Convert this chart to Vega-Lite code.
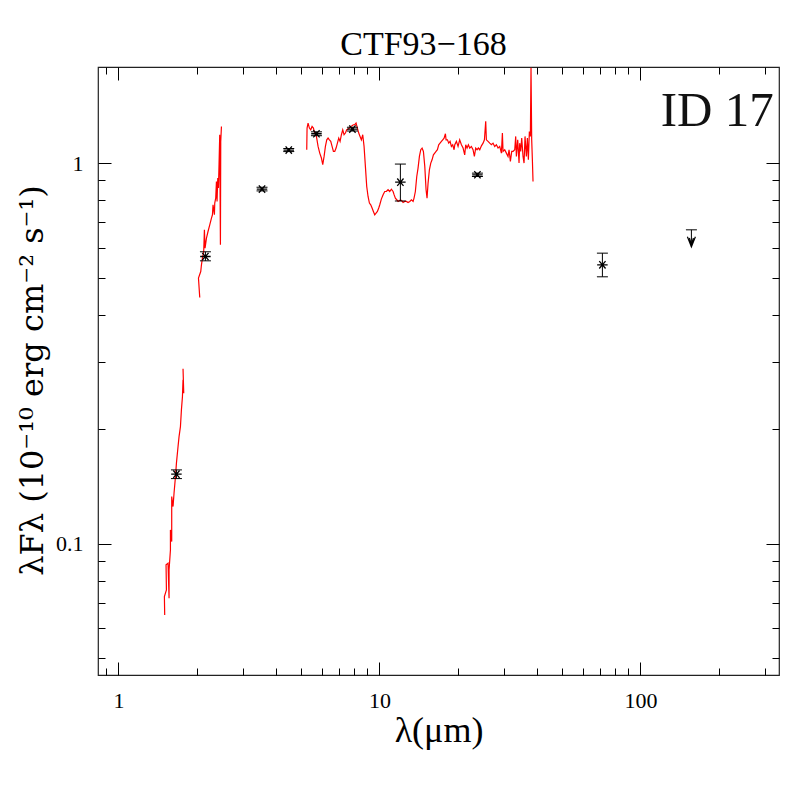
{
  "$schema": "https://vega.github.io/schema/vega-lite/v6.json",
  "width": 681,
  "height": 608,
  "autosize": {"type": "none"},
  "padding": {"left": 98, "top": 67, "right": 18, "bottom": 122},
  "background": "white",
  "title": {"text": "CTF93−168", "font": "Liberation Serif", "fontSize": 34, "fontWeight": "normal", "color": "black", "baseline": "alphabetic", "offset": 9, "dx": -15, "dy": 31},
  "config": {"view": {"stroke": "#222", "strokeWidth": 1.2}, "font": "Liberation Serif"},
  "datasets": {
    "spec": [
      {"s":1,"i":0,"w":1.504,"f":0.0650},{"s":1,"i":1,"w":1.500,"f":0.0726},{"s":1,"i":2,"w":1.527,"f":0.0756},{"s":1,"i":3,"w":1.522,"f":0.0880},{"s":1,"i":4,"w":1.549,"f":0.0889},{"s":1,"i":5,"w":1.563,"f":0.0719},{"s":1,"i":6,"w":1.563,"f":0.0853},{"s":1,"i":7,"w":1.582,"f":0.0963},{"s":1,"i":8,"w":1.582,"f":0.1087},{"s":1,"i":9,"w":1.600,"f":0.1013},{"s":1,"i":10,"w":1.600,"f":0.1330},{"s":1,"i":11,"w":1.619,"f":0.1252},{"s":1,"i":12,"w":1.633,"f":0.1357},{"s":1,"i":13,"w":1.654,"f":0.1501},{"s":1,"i":14,"w":1.668,"f":0.1628},{"s":1,"i":15,"w":1.692,"f":0.1800},{"s":1,"i":16,"w":1.707,"f":0.1912},{"s":1,"i":17,"w":1.728,"f":0.2031},{"s":1,"i":18,"w":1.743,"f":0.2247},{"s":1,"i":19,"w":1.759,"f":0.2435},{"s":1,"i":20,"w":1.768,"f":0.2695},{"s":1,"i":21,"w":1.779,"f":0.2486},{"s":1,"i":22,"w":1.768,"f":0.2880},
      {"s":2,"i":0,"w":2.049,"f":0.4435},{"s":2,"i":1,"w":2.026,"f":0.4987},{"s":2,"i":2,"w":2.067,"f":0.5189},{"s":2,"i":3,"w":2.080,"f":0.5404},{"s":2,"i":4,"w":2.098,"f":0.5627},{"s":2,"i":5,"w":2.122,"f":0.5857},{"s":2,"i":6,"w":2.135,"f":0.6678},{"s":2,"i":7,"w":2.147,"f":0.5978},{"s":2,"i":8,"w":2.174,"f":0.6352},{"s":2,"i":9,"w":2.204,"f":0.6610},{"s":2,"i":10,"w":2.238,"f":0.6884},{"s":2,"i":11,"w":2.272,"f":0.7170},{"s":2,"i":12,"w":2.292,"f":0.7314},{"s":2,"i":13,"w":2.304,"f":0.7770},{"s":2,"i":14,"w":2.332,"f":0.7314},{"s":2,"i":15,"w":2.339,"f":0.7851},{"s":2,"i":16,"w":2.359,"f":0.8091},{"s":2,"i":17,"w":2.374,"f":0.8946},{"s":2,"i":18,"w":2.387,"f":0.7927},{"s":2,"i":19,"w":2.402,"f":0.9133},{"s":2,"i":20,"w":2.416,"f":0.8597},{"s":2,"i":21,"w":2.429,"f":0.9897},{"s":2,"i":22,"w":2.444,"f":1.187},{"s":2,"i":23,"w":2.459,"f":0.6099},{"s":2,"i":24,"w":2.466,"f":1.140},{"s":2,"i":25,"w":2.481,"f":1.248},
      {"s":3,"i":0,"w":5.266,"f":1.084},{"s":3,"i":1,"w":5.281,"f":1.236},{"s":3,"i":2,"w":5.328,"f":1.274},{"s":3,"i":3,"w":5.391,"f":1.236},{"s":3,"i":4,"w":5.455,"f":1.223},{"s":3,"i":5,"w":5.520,"f":1.248},{"s":3,"i":6,"w":5.585,"f":1.236},{"s":3,"i":7,"w":5.651,"f":1.199},{"s":3,"i":8,"w":5.735,"f":1.175},{"s":3,"i":9,"w":5.820,"f":1.106},{"s":3,"i":10,"w":5.906,"f":1.062},{"s":3,"i":11,"w":5.994,"f":1.031},{"s":3,"i":12,"w":6.065,"f":0.990},{"s":3,"i":13,"w":6.137,"f":1.041},{"s":3,"i":14,"w":6.209,"f":1.106},{"s":3,"i":15,"w":6.283,"f":1.151},{"s":3,"i":16,"w":6.357,"f":1.163},{"s":3,"i":17,"w":6.432,"f":1.151},{"s":3,"i":18,"w":6.508,"f":1.140},{"s":3,"i":19,"w":6.585,"f":1.106},{"s":3,"i":20,"w":6.663,"f":1.073},{"s":3,"i":21,"w":6.742,"f":1.073},{"s":3,"i":22,"w":6.822,"f":1.095},{"s":3,"i":23,"w":6.902,"f":1.128},{"s":3,"i":24,"w":6.984,"f":1.163},{"s":3,"i":25,"w":7.066,"f":1.140},{"s":3,"i":26,"w":7.150,"f":1.187},{"s":3,"i":27,"w":7.234,"f":1.223},{"s":3,"i":28,"w":7.320,"f":1.187},{"s":3,"i":29,"w":7.406,"f":1.199},{"s":3,"i":30,"w":7.494,"f":1.223},{"s":3,"i":31,"w":7.583,"f":1.228},{"s":3,"i":32,"w":7.673,"f":1.236},{"s":3,"i":33,"w":7.763,"f":1.248},{"s":3,"i":34,"w":7.855,"f":1.253},{"s":3,"i":35,"w":7.948,"f":1.261},{"s":3,"i":36,"w":8.042,"f":1.261},{"s":3,"i":37,"w":8.137,"f":1.274},{"s":3,"i":38,"w":8.233,"f":1.236},{"s":3,"i":39,"w":8.331,"f":1.199},{"s":3,"i":40,"w":8.429,"f":1.175},{"s":3,"i":41,"w":8.529,"f":1.151},{"s":3,"i":42,"w":8.630,"f":1.187},{"s":3,"i":43,"w":8.732,"f":1.106},{"s":3,"i":44,"w":8.835,"f":0.980},{"s":3,"i":45,"w":8.940,"f":0.868},{"s":3,"i":46,"w":9.045,"f":0.817},{"s":3,"i":47,"w":9.154,"f":0.785},{"s":3,"i":48,"w":9.262,"f":0.777},{"s":3,"i":49,"w":9.372,"f":0.762},{"s":3,"i":50,"w":9.482,"f":0.746},{"s":3,"i":51,"w":9.594,"f":0.731},{"s":3,"i":52,"w":9.707,"f":0.739},{"s":3,"i":53,"w":9.822,"f":0.746},{"s":3,"i":54,"w":9.938,"f":0.762},{"s":3,"i":55,"w":10.03,"f":0.777},
      {"s":3,"i":56,"w":10.17,"f":0.804},{"s":3,"i":57,"w":10.33,"f":0.826},{"s":3,"i":58,"w":10.48,"f":0.842},{"s":3,"i":59,"w":10.63,"f":0.842},{"s":3,"i":60,"w":10.79,"f":0.851},{"s":3,"i":61,"w":10.95,"f":0.842},{"s":3,"i":62,"w":11.11,"f":0.854},{"s":3,"i":63,"w":11.28,"f":0.842},{"s":3,"i":64,"w":11.38,"f":0.826},{"s":3,"i":65,"w":11.51,"f":0.809},{"s":3,"i":66,"w":11.65,"f":0.801},{"s":3,"i":67,"w":11.79,"f":0.793},{"s":3,"i":68,"w":11.96,"f":0.798},{"s":3,"i":69,"w":12.14,"f":0.798},{"s":3,"i":70,"w":12.32,"f":0.788},{"s":3,"i":71,"w":12.50,"f":0.793},{"s":3,"i":72,"w":12.69,"f":0.793},{"s":3,"i":73,"w":12.87,"f":0.788},{"s":3,"i":74,"w":13.07,"f":0.793},{"s":3,"i":75,"w":13.26,"f":0.801},{"s":3,"i":76,"w":13.46,"f":0.793},{"s":3,"i":77,"w":13.57,"f":0.809},{"s":3,"i":78,"w":13.73,"f":0.842},{"s":3,"i":79,"w":13.90,"f":0.922},{"s":3,"i":80,"w":14.06,"f":0.970},{"s":3,"i":81,"w":14.23,"f":1.041},{"s":3,"i":82,"w":14.40,"f":1.084},{"s":3,"i":83,"w":14.57,"f":1.095},{"s":3,"i":84,"w":14.74,"f":1.073},{"s":3,"i":85,"w":14.92,"f":0.980},{"s":3,"i":86,"w":15.09,"f":0.851},{"s":3,"i":87,"w":15.22,"f":0.809},{"s":3,"i":88,"w":15.36,"f":0.886},{"s":3,"i":89,"w":15.54,"f":0.960},{"s":3,"i":90,"w":15.73,"f":1.000},{"s":3,"i":91,"w":15.91,"f":1.020},{"s":3,"i":92,"w":16.10,"f":1.051},{"s":3,"i":93,"w":16.29,"f":1.062},{"s":3,"i":94,"w":16.48,"f":1.073},{"s":3,"i":95,"w":16.68,"f":1.084},{"s":3,"i":96,"w":16.87,"f":1.117},{"s":3,"i":97,"w":17.07,"f":1.128},{"s":3,"i":98,"w":17.28,"f":1.140},{"s":3,"i":99,"w":17.48,"f":1.151},{"s":3,"i":100,"w":17.69,"f":1.163},{"s":3,"i":101,"w":17.90,"f":1.194},{"s":3,"i":102,"w":18.00,"f":1.151},{"s":3,"i":103,"w":18.22,"f":1.151},{"s":3,"i":104,"w":18.43,"f":1.128},{"s":3,"i":105,"w":18.65,"f":1.140},{"s":3,"i":106,"w":18.87,"f":1.106},{"s":3,"i":107,"w":19.09,"f":1.117},{"s":3,"i":108,"w":19.32,"f":1.084},
      {"s":3,"i":109,"w":19.44,"f":1.117},{"s":3,"i":110,"w":19.72,"f":1.140},{"s":3,"i":111,"w":20.01,"f":1.106},{"s":3,"i":112,"w":20.30,"f":1.151},{"s":3,"i":113,"w":20.61,"f":1.117},{"s":3,"i":114,"w":20.92,"f":1.095},{"s":3,"i":115,"w":21.22,"f":1.051},{"s":3,"i":116,"w":21.41,"f":1.117},{"s":3,"i":117,"w":21.66,"f":1.095},{"s":3,"i":118,"w":21.92,"f":1.117},{"s":3,"i":119,"w":22.18,"f":1.095},{"s":3,"i":120,"w":22.50,"f":1.106},{"s":3,"i":121,"w":22.84,"f":1.084},{"s":3,"i":122,"w":23.11,"f":1.041},{"s":3,"i":123,"w":23.38,"f":1.095},{"s":3,"i":124,"w":23.66,"f":1.084},{"s":3,"i":125,"w":23.94,"f":1.095},{"s":3,"i":126,"w":24.23,"f":1.084},{"s":3,"i":127,"w":24.59,"f":1.110},{"s":3,"i":128,"w":24.95,"f":1.128},{"s":3,"i":129,"w":25.25,"f":1.151},{"s":3,"i":130,"w":25.54,"f":1.287},{"s":3,"i":131,"w":25.69,"f":1.151},{"s":3,"i":132,"w":26.07,"f":1.140},{"s":3,"i":133,"w":26.46,"f":1.128},{"s":3,"i":134,"w":26.85,"f":1.117},{"s":3,"i":135,"w":27.25,"f":1.128},{"s":3,"i":136,"w":27.65,"f":1.106},{"s":3,"i":137,"w":28.06,"f":1.117},{"s":3,"i":138,"w":28.48,"f":1.095},{"s":3,"i":139,"w":28.90,"f":1.106},{"s":3,"i":140,"w":29.33,"f":1.062},{"s":3,"i":141,"w":29.59,"f":1.199},{"s":3,"i":142,"w":29.76,"f":1.073},{"s":3,"i":143,"w":30.20,"f":1.084},{"s":3,"i":144,"w":30.65,"f":1.062},{"s":3,"i":145,"w":31.10,"f":1.041},{"s":3,"i":146,"w":31.38,"f":1.084},{"s":3,"i":147,"w":31.75,"f":1.010},{"s":3,"i":148,"w":32.13,"f":1.073},{"s":3,"i":149,"w":32.51,"f":1.073},{"s":3,"i":150,"w":32.99,"f":1.084},{"s":3,"i":151,"w":33.28,"f":1.175},{"s":3,"i":152,"w":33.48,"f":1.041},{"s":3,"i":153,"w":33.87,"f":1.151},{"s":3,"i":154,"w":34.27,"f":1.000},{"s":3,"i":155,"w":34.47,"f":1.128},{"s":3,"i":156,"w":34.78,"f":1.073},{"s":3,"i":157,"w":35.09,"f":1.163},{"s":3,"i":158,"w":35.50,"f":1.041},{"s":3,"i":159,"w":35.82,"f":1.000},{"s":3,"i":160,"w":36.13,"f":1.175},{"s":3,"i":161,"w":36.56,"f":1.041},{"s":3,"i":162,"w":36.89,"f":1.163},{"s":3,"i":163,"w":37.21,"f":1.020},{"s":3,"i":164,"w":37.54,"f":1.211},{"s":3,"i":165,"w":37.87,"f":1.175},{"s":3,"i":166,"w":38.09,"f":1.780},{"s":3,"i":167,"w":38.32,"f":1.151},{"s":3,"i":168,"w":38.55,"f":1.020},{"s":3,"i":169,"w":38.77,"f":0.895}
    ],
    "phot": [
      {"w":1.668,"f":0.1523,"lo":0.1483,"hi":0.1563},
      {"w":2.154,"f":0.5682,"lo":0.5536,"hi":0.5847},
      {"w":3.549,"f":0.8545,"lo":0.845,"hi":0.864},
      {"w":4.493,"f":1.082,"lo":1.072,"hi":1.092},
      {"w":5.737,"f":1.194,"lo":1.180,"hi":1.208},
      {"w":7.880,"f":1.228,"lo":1.214,"hi":1.242},
      {"w":12.03,"f":0.891,"lo":0.795,"hi":0.994},
      {"w":23.74,"f":0.9316,"lo":0.922,"hi":0.941},
      {"w":71.5,"f":0.5404,"lo":0.5026,"hi":0.5799}
    ],
    "ulim": [{"w":156.8,"cap":0.6678,"tip":0.6026}],
    "label": [{"w":324,"f":1.248,"t":"ID  17"}]
  },
  "resolve": {"axis": {"x": "independent", "y": "independent"}},
  "layer": [
    {
      "data": {"name": "spec"},
      "mark": {"type": "line", "color": "#ff0000", "strokeWidth": 1.2, "clip": true},
      "encoding": {
        "x": {"field": "w", "type": "quantitative",
          "scale": {"type": "log", "domain": [0.835, 339.6], "nice": false},
          "axis": {"orient": "bottom", "values": [0.9,1,2,3,4,5,6,7,8,9,10,20,30,40,50,60,70,80,90,100,200,300],
            "labelExpr": "datum.value==1?'1':datum.value==10?'10':datum.value==100?'100':''",
            "tickSize": {"condition": {"test": "datum.value==1||datum.value==10||datum.value==100", "value": -13}, "value": -7},
            "tickColor": "black", "tickWidth": 1, "domain": false, "grid": false,
            "labelFont": "Liberation Serif", "labelFontSize": 22, "labelColor": "black", "labelPadding": 28,
            "labelOverlap": false, "labelFlush": false, "labelBound": false,
            "title": "λ(μm)", "titleFont": "Liberation Serif", "titleFontSize": 36, "titleFontWeight": "normal", "titleColor": "black",
            "titleX": 340.5, "titleY": 66, "titleBaseline": "alphabetic"}},
        "y": {"field": "f", "type": "quantitative",
          "scale": {"type": "log", "domain": [0.0452, 1.788], "nice": false},
          "axis": {"orient": "left", "values": [0.05,0.06,0.07,0.08,0.09,0.1,0.2,0.3,0.4,0.5,0.6,0.7,0.8,0.9,1],
            "labelExpr": "datum.value==1?'1':datum.value==0.1?'0.1':''",
            "tickSize": {"condition": {"test": "datum.value==0.1||datum.value==1", "value": -13}, "value": -7},
            "tickColor": "black", "tickWidth": 1, "domain": false, "grid": false,
            "labelFont": "Liberation Serif", "labelFontSize": 22, "labelColor": "black", "labelPadding": 28,
            "labelOverlap": false, "labelFlush": false, "labelBound": false,
            "title": "λFλ (10⁻¹⁰ erg cm⁻² s⁻¹)", "titleFont": "DejaVu Serif", "titleFontSize": 32, "titleFontWeight": "normal", "titleColor": "black",
            "titleX": -56, "titleY": 313, "titleBaseline": "alphabetic", "titleAngle": -90}},
        "detail": {"field": "s", "type": "nominal"},
        "order": {"field": "i", "type": "quantitative"}
      }
    },
    {
      "data": {"name": "phot"},
      "mark": {"type": "rule", "color": "black", "strokeWidth": 1},
      "encoding": {
        "x": {"field": "w", "type": "quantitative",
          "scale": {"type": "log", "domain": [0.835, 339.6], "nice": false},
          "axis": {"orient": "top", "values": [0.9,1,2,3,4,5,6,7,8,9,10,20,30,40,50,60,70,80,90,100,200,300],
            "labels": false,
            "tickSize": {"condition": {"test": "datum.value==1||datum.value==10||datum.value==100", "value": -13}, "value": -7},
            "tickColor": "black", "tickWidth": 1, "domain": false, "grid": false, "title": null}},
        "y": {"field": "lo", "type": "quantitative",
          "scale": {"type": "log", "domain": [0.0452, 1.788], "nice": false},
          "axis": {"orient": "right", "values": [0.05,0.06,0.07,0.08,0.09,0.1,0.2,0.3,0.4,0.5,0.6,0.7,0.8,0.9,1],
            "labels": false,
            "tickSize": {"condition": {"test": "datum.value==0.1||datum.value==1", "value": -13}, "value": -7},
            "tickColor": "black", "tickWidth": 1, "domain": false, "grid": false, "title": null}},
        "y2": {"field": "hi"}
      }
    },
    {
      "data": {"name": "phot"},
      "mark": {"type": "tick", "orient": "horizontal", "size": 11, "thickness": 1, "color": "black", "opacity": 1},
      "encoding": {
        "x": {"field": "w", "type": "quantitative", "scale": {"type": "log", "domain": [0.835, 339.6], "nice": false}, "axis": null},
        "y": {"field": "lo", "type": "quantitative", "scale": {"type": "log", "domain": [0.0452, 1.788], "nice": false}, "axis": null}
      }
    },
    {
      "data": {"name": "phot"},
      "mark": {"type": "tick", "orient": "horizontal", "size": 11, "thickness": 1, "color": "black", "opacity": 1},
      "encoding": {
        "x": {"field": "w", "type": "quantitative", "scale": {"type": "log", "domain": [0.835, 339.6], "nice": false}, "axis": null},
        "y": {"field": "hi", "type": "quantitative", "scale": {"type": "log", "domain": [0.0452, 1.788], "nice": false}, "axis": null}
      }
    },
    {
      "data": {"name": "phot"},
      "mark": {"type": "point", "shape": "M-1,0L1,0M-0.6,-0.7L0.6,0.7M-0.6,0.7L0.6,-0.7", "size": 110, "filled": false, "stroke": "black", "strokeWidth": 1.3, "opacity": 1},
      "encoding": {
        "x": {"field": "w", "type": "quantitative", "scale": {"type": "log", "domain": [0.835, 339.6], "nice": false}, "axis": null},
        "y": {"field": "f", "type": "quantitative", "scale": {"type": "log", "domain": [0.0452, 1.788], "nice": false}, "axis": null}
      }
    },
    {
      "data": {"name": "ulim"},
      "mark": {"type": "rule", "color": "black", "strokeWidth": 1},
      "encoding": {
        "x": {"field": "w", "type": "quantitative", "scale": {"type": "log", "domain": [0.835, 339.6], "nice": false}, "axis": null},
        "y": {"field": "cap", "type": "quantitative", "scale": {"type": "log", "domain": [0.0452, 1.788], "nice": false}, "axis": null},
        "y2": {"field": "tip"}
      }
    },
    {
      "data": {"name": "ulim"},
      "mark": {"type": "tick", "orient": "horizontal", "size": 11, "thickness": 1, "color": "black", "opacity": 1},
      "encoding": {
        "x": {"field": "w", "type": "quantitative", "scale": {"type": "log", "domain": [0.835, 339.6], "nice": false}, "axis": null},
        "y": {"field": "cap", "type": "quantitative", "scale": {"type": "log", "domain": [0.0452, 1.788], "nice": false}, "axis": null}
      }
    },
    {
      "data": {"name": "ulim"},
      "mark": {"type": "point", "shape": "M-1,-2.5L0,0L1,-2.5M-0.5,-2.2L0,-0.6L0.5,-2.2", "size": 64, "filled": false, "stroke": "black", "strokeWidth": 1.2, "opacity": 1},
      "encoding": {
        "x": {"field": "w", "type": "quantitative", "scale": {"type": "log", "domain": [0.835, 339.6], "nice": false}, "axis": null},
        "y": {"field": "tip", "type": "quantitative", "scale": {"type": "log", "domain": [0.0452, 1.788], "nice": false}, "axis": null}
      }
    },
    {
      "data": {"name": "label"},
      "mark": {"type": "text", "align": "right", "baseline": "alphabetic", "font": "Liberation Serif", "fontSize": 49, "color": "#111"},
      "encoding": {
        "x": {"field": "w", "type": "quantitative", "scale": {"type": "log", "domain": [0.835, 339.6], "nice": false}, "axis": null},
        "y": {"field": "f", "type": "quantitative", "scale": {"type": "log", "domain": [0.0452, 1.788], "nice": false}, "axis": null},
        "text": {"field": "t"}
      }
    }
  ]
}
